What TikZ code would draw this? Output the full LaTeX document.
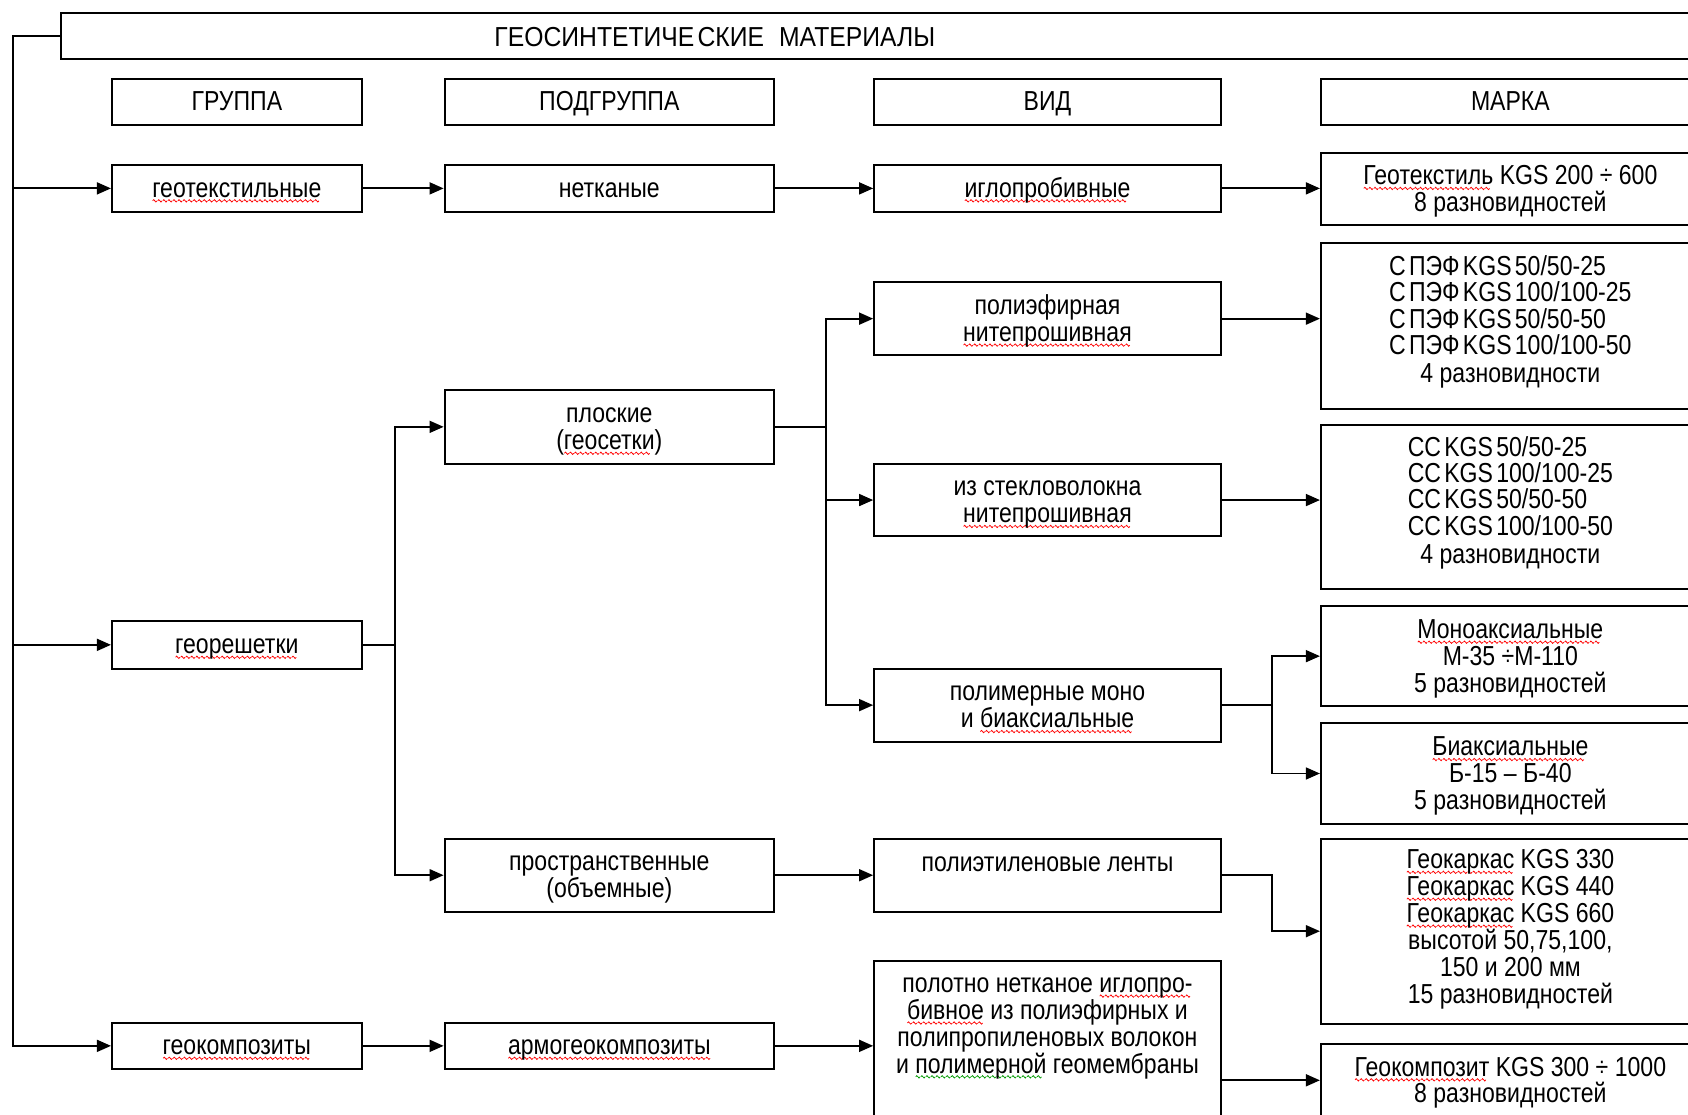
\documentclass[tikz,border=0pt]{standalone}
\usepackage{fontspec}
\setmainfont{Liberation Sans}[FakeStretch=0.84]
\usetikzlibrary{arrows.meta}
\newsavebox\rwb
\newsavebox\gwb
\newsavebox\wtmp
\newcommand\wavy[2]{\sbox\wtmp{#2}\rlap{\smash{\raisebox{-5pt}{\hbox to\wd\wtmp{\leaders\hbox{\usebox#1}\hfill}}}}\usebox\wtmp}
\newcommand\rw[1]{\wavy\rwb{#1}}
\newcommand\gw[1]{\wavy\gwb{#1}}
\newcommand\bfs{\fontsize{25.5}{25}\selectfont}
\newcommand\nsp{\hspace{3pt}}
\newcommand\fl{\rule{0pt}{23pt}}
\newcommand\mkwave[1]{\begin{pgfpicture}\pgfsetlinewidth{0.7pt}\pgfsetstrokecolor{#1}\pgfpathmoveto{\pgfpointorigin}\pgfpathsine{\pgfpoint{1pt}{1.1pt}}\pgfpathcosine{\pgfpoint{1pt}{-1.1pt}}\pgfpathsine{\pgfpoint{1pt}{-1.1pt}}\pgfpathcosine{\pgfpoint{1pt}{1.1pt}}\pgfusepath{stroke}\end{pgfpicture}}
\begin{document}
\sbox\rwb{\mkwave{red}}%
\sbox\gwb{\mkwave{green!60!black}}%
\begin{tikzpicture}[x=1pt,y=-1pt,
  bx/.style 2 args={draw,line width=1.8pt,inner sep=0pt,minimum width=#1pt,minimum height=#2pt,font=\bfs,align=center,
    execute at begin node={\rule{0pt}{22pt}},execute at end node={\rule[-6pt]{0pt}{6pt}}},
  txt/.style={inner sep=0pt,font=\bfs,align=center},
  arr/.style={line width=1.8pt,-{Triangle[length=13pt,width=11pt]}}]
\useasboundingbox (0,0) rectangle (1568,1035);
\clip (0,0) rectangle (1568,1035);
\coordinate (L) at (12,0);
% title
\node[bx={1543}{43}] (title) at (828.5,33.5) {};
\node[txt] (tt) at (664,34) {\addfontfeature{FakeStretch=0.9}ГЕОСИНТЕТИЧЕ\kern3pt СКИЕ\hspace{14pt}МАТЕРИАЛЫ};
% headers
\node[bx={232}{43}] (h1) at (220,94.5) {ГРУППА};
\node[bx={306}{43}] (h2) at (566,94.5) {ПОДГРУППА};
\node[bx={322}{43}] (h3) at (973,94.5) {ВИД};
\node[bx={352}{43}] (h4) at (1403,94.5) {МАРКА};
% row 1
\node[bx={232}{44}] (gtx) at (220,175) {\rw{геотекстильные}};
\node[bx={306}{44}] (net) at (566,175) {нетканые};
\node[bx={322}{44}] (igl) at (973,175) {\rw{иглопробивные}};
\node[bx={352}{67}] (m1) at (1403,175.5) {\fl\rw{Геотекстиль} KGS 200 ÷ 600\\8 разновидностей};
% georeshetki
\node[bx={232}{44}] (grid) at (220,599) {\rw{георешетки}};
\node[bx={306}{69}] (flat) at (566,396.5) {\fl плоские\\(\rw{геосетки})};
\node[bx={306}{68}] (space) at (566,813) {\fl пространственные\\(объемные)};
\node[bx={322}{68}] (polyester) at (973,296) {\fl полиэфирная\\\rw{нитепрошивная}};
\node[bx={322}{67}] (glass) at (973,464.5) {\fl из стекловолокна\\\rw{нитепрошивная}};
\node[bx={322}{68}] (polym) at (973,655) {\fl полимерные моно\\и \rw{биаксиальные}};
\node[bx={322}{68}] (polyeth) at (973,813) {};
\node[txt] (pet) at (973,803) {полиэтиленовые ленты};
\node[bx={352}{154}] (m2) at (1403,303) {};
\node[txt] (m2t) at (1403,300) {\begin{tabular}{@{}l@{}}С\nsp ПЭФ\nsp KGS\nsp 50/50-25\\[-1.5pt]С\nsp ПЭФ\nsp KGS\nsp 100/100-25\\[-1.5pt]С\nsp ПЭФ\nsp KGS\nsp 50/50-50\\[-1.5pt]С\nsp ПЭФ\nsp KGS\nsp 100/100-50\\[1pt]\multicolumn{1}{@{}c@{}}{4 разновидности}\end{tabular}};
\node[bx={352}{152}] (m3) at (1403,471) {};
\node[txt] (m3t) at (1403,468) {\begin{tabular}{@{}l@{}}СС\nsp KGS\nsp 50/50-25\\[-1.5pt]СС\nsp KGS\nsp 100/100-25\\[-1.5pt]СС\nsp KGS\nsp 50/50-50\\[-1.5pt]СС\nsp KGS\nsp 100/100-50\\[1pt]\multicolumn{1}{@{}c@{}}{4 разновидности}\end{tabular}};
\node[bx={352}{93}] (mono) at (1403,609.5) {\fl\rw{Моноаксиальные}\\М-35 ÷М-110\\5 разновидностей};
\node[bx={352}{93}] (biax) at (1403,718.5) {\fl\rw{Биаксиальные}\\Б-15 – Б-40\\5 разновидностей};
\node[bx={352}{172}] (karkas) at (1403,865) {};
\node[txt] (kt) at (1403,863) {\rw{Геокаркас} KGS 330\\\rw{Геокаркас} KGS 440\\\rw{Геокаркас} KGS 660\\высотой 50,75,100,\\150 и 200 мм\\15 разновидностей};
% geokompozity
\node[bx={232}{43}] (gcomp) at (220,971.5) {\rw{геокомпозиты}};
\node[bx={306}{43}] (armo) at (566,971.5) {\rw{армогеокомпозиты}};
\node[bx={322}{170}] (poloto) at (973,978) {};
\node[txt] (pt) at (973,955) {полотно нетканое \rw{иглопро-}\\\rw{бивное} из полиэфирных и\\полипропиленовых волокон\\и \gw{полимерной} геомембраны};
\node[bx={352}{67}] (gkomp) at (1403,1003.5) {\fl\rw{Геокомпозит} KGS 300 ÷ 1000\\8 разновидностей};
% connectors
\draw[arr] (title.west) -| (gcomp.west -| L) -- (gcomp.west);
\draw[arr] (gtx.west -| L) -- (gtx.west);
\draw[arr] (grid.west -| L) -- (grid.west);
\draw[arr] (gtx.east) -- (net.west);
\draw[arr] (net.east) -- (igl.west);
\draw[arr] (igl.east) -- (igl.east -| m1.west);
\draw[arr] (grid.east) -- ++(30,0) |- (flat.west);
\draw[arr] (grid.east) -- ++(30,0) |- (space.west);
\draw[arr] (flat.east) -- ++(47,0) |- (polyester.west);
\draw[arr] (flat.east) -- ++(47,0) |- (glass.west);
\draw[arr] (flat.east) -- ++(47,0) |- (polym.west);
\draw[arr] (polyester.east) -- (polyester.east -| m2.west);
\draw[arr] (glass.east) -- (glass.east -| m3.west);
\draw[arr] (polym.east) -- ++(47,0) |- (mono.west);
\draw[arr] (polym.east) -- ++(47,0) |- (biax.west);
\draw[arr] (space.east) -- (polyeth.west);
\draw[arr] (polyeth.east) -- ++(47,0) |- (karkas.west);
\draw[arr] (gcomp.east) -- (armo.west);
\draw[arr] (armo.east) -- (armo.east -| poloto.west);
\draw[arr] (gkomp.west -| poloto.east) -- (gkomp.west);
\end{tikzpicture}
\end{document}
